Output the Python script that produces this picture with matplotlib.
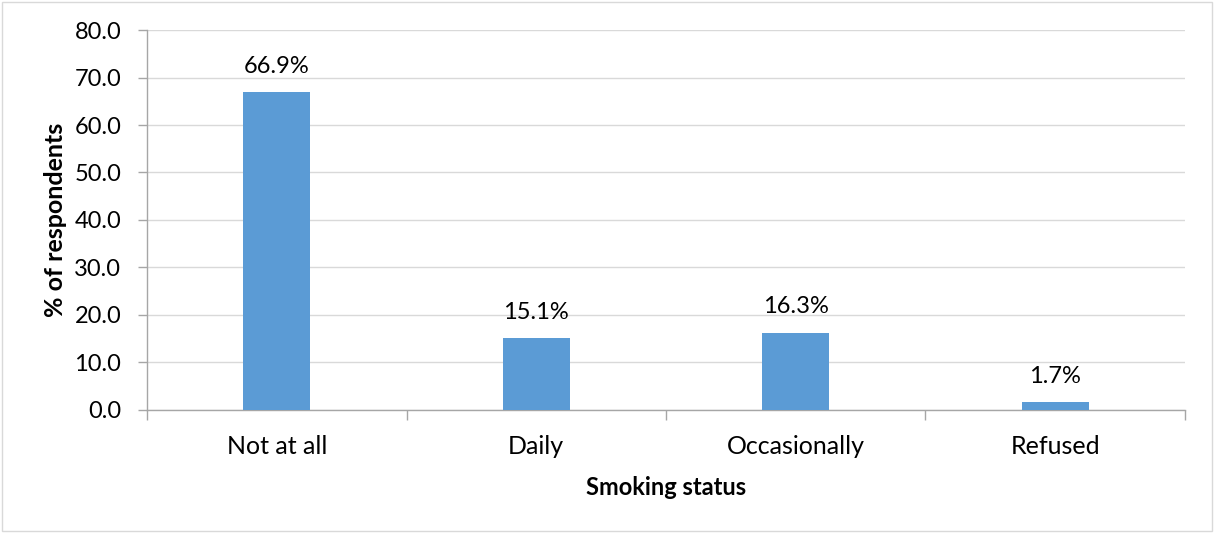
import matplotlib
matplotlib.use("Agg")
import matplotlib.pyplot as plt
from matplotlib.patches import Rectangle
from matplotlib.ticker import MultipleLocator, FixedLocator, NullFormatter

categories = ["Not at all", "Daily", "Occasionally", "Refused"]
values = [66.9, 15.1, 16.3, 1.7]
bar_labels = ["66.9%", "15.1%", "16.3%", "1.7%"]

plt.rcParams["font.family"] = ["Lato", "DejaVu Sans"]

fig = plt.figure(figsize=(12.14, 5.33), dpi=100)
ax = fig.add_axes([0.1211, 0.2308, 0.8550, 0.7129])

x = list(range(len(categories)))
bars = ax.bar(x, values, width=0.26, color="#5B9BD5", zorder=3)

ax.set_xlim(-0.5, len(categories) - 0.5)
ax.set_ylim(0, 80)
ax.yaxis.set_major_locator(MultipleLocator(10))
ax.set_yticklabels([f"{v:.1f}" for v in ax.get_yticks()])
ax.grid(axis="y", color="#D9D9D9", linewidth=1, zorder=0)

ax.set_xticks(x)
ax.set_xticklabels(categories)
ax.xaxis.set_minor_locator(FixedLocator([i - 0.5 for i in range(len(categories) + 1)]))
ax.xaxis.set_minor_formatter(NullFormatter())
ax.tick_params(axis="x", which="major", length=0, pad=18, labelsize=18)
ax.tick_params(axis="x", which="minor", length=7, color="#A6A6A6", width=1)
ax.tick_params(axis="y", length=6.5, color="#A6A6A6", width=1, labelsize=17, pad=12)

for side in ("top", "right"):
    ax.spines[side].set_visible(False)
for side in ("left", "bottom"):
    ax.spines[side].set_color("#A6A6A6")
    ax.spines[side].set_linewidth(1)

for rect, lab in zip(bars, bar_labels):
    ax.annotate(lab, (rect.get_x() + rect.get_width() / 2, rect.get_height()),
                xytext=(0, 11), textcoords="offset points",
                ha="center", va="bottom", fontsize=17)

ax.set_xlabel("Smoking status", fontsize=17, fontweight="bold", labelpad=13)
ax.set_ylabel("% of respondents", fontsize=18, fontweight="bold", labelpad=5)

fig.patches.append(Rectangle((0.002, 0.004), 0.996, 0.992, transform=fig.transFigure,
                             fill=False, edgecolor="#D9D9D9", linewidth=1))

fig.savefig("out.png", dpi=100)
